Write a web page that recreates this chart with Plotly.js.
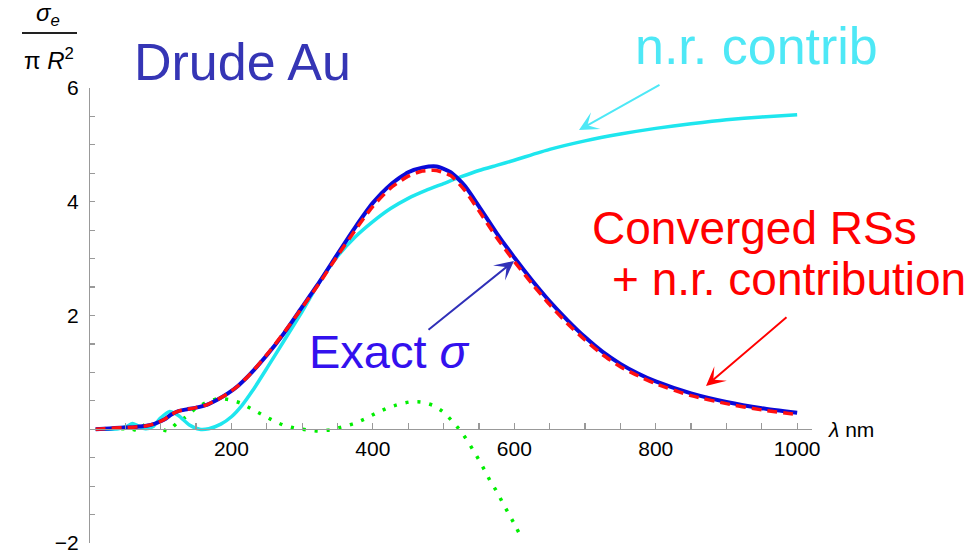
<!DOCTYPE html>
<html>
<head>
<meta charset="utf-8">
<script src="https://cdn.plot.ly/plotly-3.0.1.min.js"></script>
<style>html,body{margin:0;padding:0;background:#fff;}#chart{width:966px;height:553px;}</style>
</head>
<body>
<div id="chart"></div>
<script>
// wavelength grids (nm)
var lambdaExact = [8, 20, 35, 50, 65, 80, 92, 105, 115, 125, 137, 150, 165, 180, 195, 210, 225, 250, 275, 300, 325, 350, 375, 400, 425, 450, 470, 490, 510, 530, 550, 575, 600, 625, 650, 675, 700, 725, 750, 775, 800, 850, 900, 950, 1000];
// exact sigma_e / (pi R^2)
var sigmaExact = [0, 0.01, 0.02, 0.03, 0.04, 0.06, 0.1, 0.17, 0.26, 0.32, 0.35, 0.38, 0.43, 0.52, 0.63, 0.77, 0.95, 1.3, 1.7, 2.15, 2.6, 3.08, 3.55, 3.98, 4.3, 4.52, 4.6, 4.62, 4.52, 4.28, 3.92, 3.45, 3.02, 2.62, 2.25, 1.92, 1.62, 1.36, 1.15, 0.98, 0.84, 0.63, 0.48, 0.37, 0.29];
// converged RSs + n.r. contribution
var sigmaRS = [0, 0.01, 0.02, 0.03, 0.04, 0.06, 0.1, 0.17, 0.26, 0.32, 0.35, 0.38, 0.43, 0.52, 0.63, 0.77, 0.95, 1.31, 1.71, 2.14, 2.58, 3.05, 3.5, 3.92, 4.24, 4.45, 4.54, 4.55, 4.46, 4.2, 3.84, 3.37, 2.95, 2.56, 2.19, 1.86, 1.57, 1.31, 1.1, 0.94, 0.8, 0.59, 0.45, 0.34, 0.26];
// non-resonant contribution
var lambdaNR = [8, 25, 40, 52, 60, 68, 78, 88, 100, 112, 125, 140, 155, 168, 185, 200, 215, 230, 250, 275, 300, 325, 350, 375, 400, 425, 450, 475, 500, 525, 550, 575, 600, 650, 700, 750, 800, 850, 900, 950, 1000];
var sigmaNR = [0, 0, 0.01, 0.05, 0.1, 0.06, 0.01, 0.04, 0.2, 0.31, 0.24, 0.08, 0.0, 0.01, 0.09, 0.22, 0.42, 0.68, 1.07, 1.57, 2.07, 2.6, 3.04, 3.38, 3.65, 3.88, 4.06, 4.2, 4.32, 4.44, 4.55, 4.64, 4.73, 4.92, 5.07, 5.19, 5.29, 5.37, 5.44, 5.49, 5.53];
// green dotted curve
var lambdaG = [10, 30, 50, 60, 69, 81, 95, 110, 123, 137, 150, 164, 181, 197, 213, 228, 243, 258, 274, 290, 307, 323, 340, 356, 373, 390, 404, 420, 437, 452, 468, 485, 499, 511, 522, 532, 541, 550, 558, 566, 575, 583, 591, 599, 607];
var sigmaG = [0, 0, 0.01, 0.0, -0.03, 0.12, 0.04, -0.03, 0.11, 0.23, 0.37, 0.47, 0.54, 0.52, 0.46, 0.36, 0.26, 0.16, 0.07, 0.02, -0.01, -0.03, -0.01, 0.04, 0.10, 0.19, 0.28, 0.37, 0.44, 0.48, 0.48, 0.42, 0.31, 0.16, 0.0, -0.17, -0.35, -0.54, -0.72, -0.91, -1.09, -1.28, -1.46, -1.64, -1.83];

// tick marks (every 50 nm / 0.5) with labels only on the major ones
var xTickVals = [50, 100, 150, 200, 250, 300, 350, 400, 450, 500, 550, 600, 650, 700, 750, 800, 850, 900, 950, 1000];
var xTickText = ['', '', '', '200', '', '', '', '400', '', '', '', '600', '', '', '', '800', '', '', '', '1000'];
var yTickVals = [-2, -1.5, -1, -0.5, 0, 0.5, 1, 1.5, 2, 2.5, 3, 3.5, 4, 4.5, 5, 5.5, 6];
var yTickText = ['\u22122', '', '', '', '', '', '', '', '2', '', '', '', '4', '', '', '', '6'];

var FONT = 'Liberation Sans, Arial, sans-serif';

var traces = [
  {x: lambdaG, y: sigmaG, mode: 'lines', line: {color: '#00ee00', width: 3.5, dash: '3px,9px', shape: 'spline', smoothing: 0.6}, hoverinfo: 'skip'},
  {x: lambdaNR, y: sigmaNR, mode: 'lines', line: {color: '#1ee6ee', width: 3.5, shape: 'spline', smoothing: 0.6}, hoverinfo: 'skip'},
  {x: lambdaExact, y: sigmaExact, mode: 'lines', line: {color: '#0a0ad8', width: 4, shape: 'spline', smoothing: 0.6}, hoverinfo: 'skip'},
  {x: lambdaExact, y: sigmaRS, mode: 'lines', line: {color: '#ff1010', width: 3.5, dash: '10px,6px', shape: 'spline', smoothing: 0.6}, hoverinfo: 'skip'}
];

function px(xp) { return (xp - 90) / 722; }
function py(yp) { return (543 - yp) / 455; }

var layout = {
  width: 966, height: 553,
  margin: {l: 90, r: 154, t: 88, b: 10, pad: 0},
  paper_bgcolor: '#ffffff', plot_bgcolor: '#ffffff',
  showlegend: false,
  font: {family: FONT, color: '#000'},
  xaxis: {
    range: [0, 1021], anchor: 'free', position: 0.25,
    showgrid: false, zeroline: false, showline: true, linecolor: '#999999', linewidth: 1.2,
    tickmode: 'array', tickvals: xTickVals, ticktext: xTickText,
    ticks: 'inside', ticklen: 6, tickwidth: 1.2, tickcolor: '#999999',
    tickfont: {family: FONT, size: 21, color: '#000'}, ticklabelstandoff: 0, ticklabeloverflow: 'allow'
  },
  yaxis: {
    range: [-2, 6],
    showgrid: false, zeroline: false, showline: true, linecolor: '#999999', linewidth: 1.2,
    tickmode: 'array', tickvals: yTickVals, ticktext: yTickText,
    ticks: 'inside', ticklen: 5, tickwidth: 1.2, tickcolor: '#999999',
    tickfont: {family: FONT, size: 21, color: '#000'}, ticklabelstandoff: 6, ticklabeloverflow: 'allow'
  },
  shapes: [
    {type: 'line', xref: 'paper', yref: 'paper', x0: px(22), x1: px(77), y0: py(33), y1: py(33), line: {color: '#222', width: 2}}
  ],
  annotations: [
    {xref: 'paper', yref: 'paper', x: px(48), y: py(15), xanchor: 'center', yanchor: 'middle', showarrow: false,
     text: '<i>σ</i><sub><i>e</i></sub>', font: {family: FONT, size: 24, color: '#000'}},
    {xref: 'paper', yref: 'paper', x: px(49), y: py(59), xanchor: 'center', yanchor: 'middle', showarrow: false,
     text: 'π <i>R</i><sup>2</sup>', font: {family: FONT, size: 24, color: '#000'}},
    {xref: 'paper', yref: 'paper', x: px(826), y: py(429), xanchor: 'left', yanchor: 'middle', showarrow: false,
     text: '<i>λ</i> nm', font: {family: FONT, size: 21, color: '#000'}},
    {xref: 'paper', yref: 'paper', x: px(242), y: py(62), xanchor: 'center', yanchor: 'middle', showarrow: false,
     text: 'Drude Au', font: {family: FONT, size: 52, color: '#3535b5'}},
    {xref: 'paper', yref: 'paper', x: px(756), y: py(46), xanchor: 'center', yanchor: 'middle', showarrow: false,
     text: 'n.r. contrib', font: {family: FONT, size: 52, color: '#4ee8f6'}},
    {xref: 'paper', yref: 'paper', x: px(754), y: py(228), xanchor: 'center', yanchor: 'middle', showarrow: false,
     text: 'Converged RSs', font: {family: FONT, size: 46, color: '#ff0000'}},
    {xref: 'paper', yref: 'paper', x: px(789), y: py(279), xanchor: 'center', yanchor: 'middle', showarrow: false,
     text: '+ n.r. contribution', font: {family: FONT, size: 46, color: '#ff0000'}},
    {xref: 'paper', yref: 'paper', x: px(389), y: py(352), xanchor: 'center', yanchor: 'middle', showarrow: false,
     text: 'Exact <i>σ</i>', font: {family: FONT, size: 47, color: '#3311ee'}},
    // arrows
    {xref: 'paper', yref: 'paper', x: px(579), y: py(130), ax: 82, ay: -46, showarrow: true, text: '',
     arrowhead: 3, arrowsize: 1.6, arrowwidth: 2, arrowcolor: '#4ee8f6', standoff: 0},
    {xref: 'paper', yref: 'paper', x: px(514), y: py(261), ax: -87, ay: 70, showarrow: true, text: '',
     arrowhead: 3, arrowsize: 1.6, arrowwidth: 2, arrowcolor: '#3030b8', standoff: 0},
    {xref: 'paper', yref: 'paper', x: px(706), y: py(386), ax: 82, ay: -70, showarrow: true, text: '',
     arrowhead: 3, arrowsize: 1.6, arrowwidth: 2, arrowcolor: '#ff0000', standoff: 0}
  ]
};

Plotly.newPlot('chart', traces, layout, {staticPlot: true, displayModeBar: false});
</script>
</body>
</html>
